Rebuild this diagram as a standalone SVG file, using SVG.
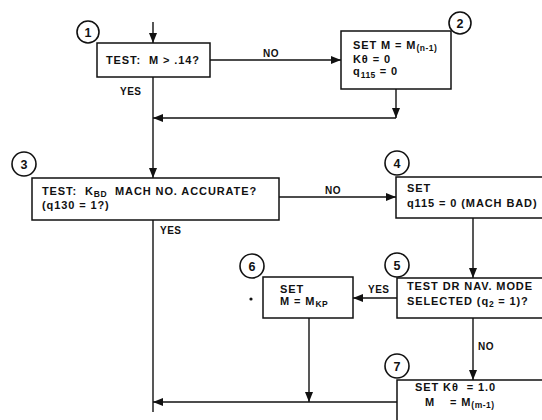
<svg xmlns="http://www.w3.org/2000/svg" width="542" height="420" viewBox="0 0 542 420">
<style>
.box{fill:#fff;stroke:#111;stroke-width:1.5}
.c{fill:#fff;stroke:#111;stroke-width:1.6}
.cn{font-family:"Liberation Sans",Arial,sans-serif;font-weight:bold;font-size:12.5px;fill:#111;text-anchor:middle}
.t{font-family:"Liberation Sans",Arial,sans-serif;font-weight:bold;font-size:11px;fill:#111;letter-spacing:0.9px;white-space:pre}
.l{font-family:"Liberation Sans",Arial,sans-serif;font-weight:bold;font-size:10px;fill:#111;letter-spacing:0.5px}
.s{font-size:8.5px;letter-spacing:0.5px}
.w{fill:none;stroke:#111;stroke-width:1.4}
</style>
<defs>
<marker id="a" markerUnits="userSpaceOnUse" markerWidth="10" markerHeight="8" refX="10" refY="4" orient="auto">
<path d="M0,0 L10,4 L0,8 z" fill="#111"/>
</marker>
</defs>
<rect width="542" height="420" fill="#fff"/>
<g id="connectors">
<path class="w" d="M153,22 V43" marker-end="url(#a)"/>
<path class="w" d="M210,60 H341" marker-end="url(#a)"/>
<path class="w" d="M153,77 V178" marker-end="url(#a)"/>
<path class="w" d="M396,89 V118" marker-end="url(#a)"/>
<path class="w" d="M396,118 H153" marker-end="url(#a)"/>
<path class="w" d="M279,197 H396" marker-end="url(#a)"/>
<path class="w" d="M153,220 V412"/>
<path class="w" d="M473,218 V278" marker-end="url(#a)"/>
<path class="w" d="M397,298 H353" marker-end="url(#a)"/>
<path class="w" d="M473,318 V380" marker-end="url(#a)"/>
<path class="w" d="M309,318 V402" marker-end="url(#a)"/>
<path class="w" d="M397,402 H153" marker-end="url(#a)"/>
<text class="l" x="263" y="57">NO</text>
<text class="l" x="120" y="95">YES</text>
<text class="l" x="325" y="194">NO</text>
<text class="l" x="160" y="234">YES</text>
<text class="l" x="368" y="293">YES</text>
<text class="l" x="478" y="350">NO</text>
</g>
<g id="n1">
<rect class="box" x="97" y="43" width="113" height="34"/>
<circle class="c" cx="88" cy="32" r="11"/>
<text class="cn" x="88" y="36.5">1</text>
<text class="t" x="106" y="64">TEST:  M &gt; .14?</text>
</g>
<g id="n2">
<rect class="box" x="341" y="31" width="110" height="58"/>
<circle class="c" cx="460" cy="23" r="11"/>
<text class="cn" x="460" y="27.5">2</text>
<text class="t" x="353" y="49">SET M = M<tspan class="s" dy="2">(n-1)</tspan></text>
<text class="t" x="353" y="63">Kθ = 0</text>
<text class="t" x="353" y="75">q<tspan class="s" dy="3">115</tspan><tspan dy="-3"> = 0</tspan></text>
</g>
<g id="n3">
<rect class="box" x="32" y="178" width="247" height="42"/>
<circle class="c" cx="24" cy="164" r="12"/>
<text class="cn" x="24" y="168.5">3</text>
<text class="t" x="42" y="195">TEST:  K<tspan class="s" dy="2">BD</tspan><tspan dy="-2">  MACH NO. ACCURATE?</tspan></text>
<text class="t" x="42" y="209">(q130 = 1?)</text>
</g>
<g id="n4">
<rect class="box" x="396" y="177" width="170" height="41"/>
<circle class="c" cx="397" cy="163" r="12"/>
<text class="cn" x="397" y="167.5">4</text>
<text class="t" x="407" y="192">SET</text>
<text class="t" x="407" y="207">q115 = 0 (MACH BAD)</text>
</g>
<g id="n5">
<rect class="box" x="397" y="278" width="170" height="40"/>
<circle class="c" cx="397" cy="265" r="12"/>
<text class="cn" x="397" y="269.5">5</text>
<text class="t" x="407" y="290">TEST DR NAV. MODE</text>
<text class="t" x="407" y="305">SELECTED (q<tspan class="s" dy="2">2</tspan><tspan dy="-2"> = 1)?</tspan></text>
</g>
<g id="n6">
<rect class="box" x="263" y="277" width="90" height="41"/>
<circle class="c" cx="252" cy="266" r="12"/>
<text class="cn" x="252" y="270.5">6</text>
<circle cx="251" cy="299" r="1.6" fill="#111"/>
<text class="t" x="280" y="293">SET</text>
<text class="t" x="280" y="305">M = M<tspan class="s" dy="2">KP</tspan></text>
</g>
<g id="n7">
<rect class="box" x="397" y="380" width="170" height="60"/>
<circle class="c" cx="397" cy="366" r="12"/>
<text class="cn" x="397" y="370.5">7</text>
<text class="t" x="415" y="391">SET Kθ  = 1.0</text>
<text class="t" x="425" y="406">M</text>
<text class="t" x="450" y="406">= M<tspan class="s" dy="2">(m-1)</tspan></text>
</g>
</svg>
